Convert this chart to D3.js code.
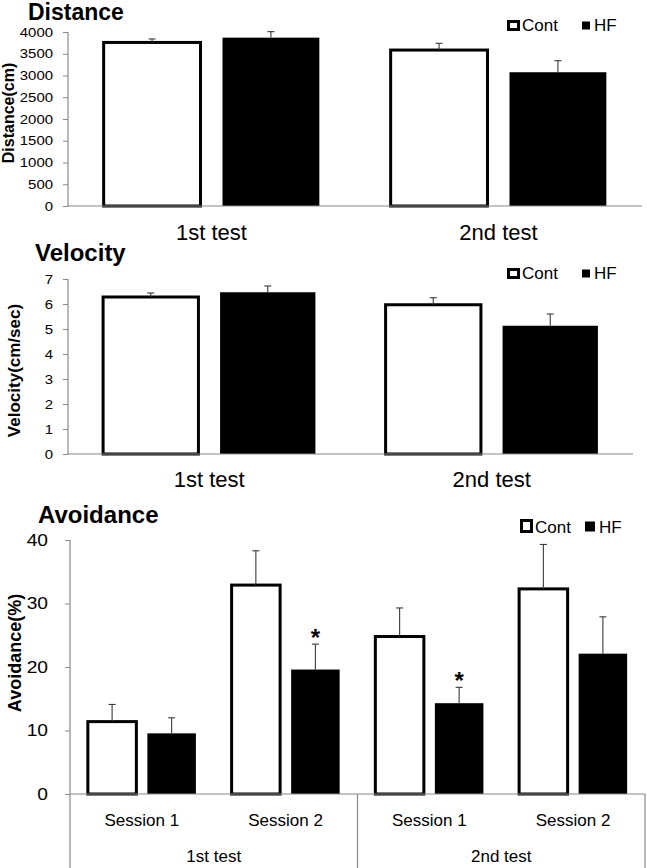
<!DOCTYPE html>
<html>
<head>
<meta charset="utf-8">
<script src="https://cdn.jsdelivr.net/npm/d3@7/dist/d3.min.js"></script>
<style>
  html, body { margin: 0; padding: 0; background: #fff; }
  svg { display: block; font-family: "Liberation Sans", Arial, sans-serif; }
</style>
</head>
<body>
<svg id="chart" width="647" height="868"></svg>
<script>
// ---------- DATA ----------
const groups = ["Cont", "HF"];

const distCategories = ["1st test", "2nd test"];
const distCont = [3760, 3585];
const distContErr = [80, 155];
const distHF = [3870, 3075];
const distHFErr = [138, 266];
const distTicks = [0, 500, 1000, 1500, 2000, 2500, 3000, 3500, 4000];

const velCategories = ["1st test", "2nd test"];
const velCont = [6.28, 5.97];
const velContErr = [0.16, 0.28];
const velHF = [6.47, 5.13];
const velHFErr = [0.25, 0.47];
const velTicks = [0, 1, 2, 3, 4, 5, 6, 7];

const avSessions = ["Session 1", "Session 2", "Session 1", "Session 2"];
const avTests = ["1st test", "2nd test"];
const avCont = [11.4, 32.9, 24.8, 32.3];
const avContErr = [2.7, 5.4, 4.5, 7.0];
const avHF = [9.55, 19.6, 14.3, 22.1];
const avHFErr = [2.45, 4.0, 2.5, 5.8];
const avHFSig = [false, true, true, false];
const avTicks = [0, 10, 20, 30, 40];

// ---------- DRAW ----------
const svg = d3.select("#chart");
const AXIS = "#8a8a8a";
const ERR = "#3a3a3a";

function drawPanel(cfg) {
  const g = svg.append("g");
  const n = cfg.cats.length;
  const keys = d3.range(n);
  const x0 = d3.scaleBand().domain(keys).range([cfg.x0, cfg.x1]).padding(0);
  const x1 = d3.scaleBand().domain(groups).range([0, x0.bandwidth()])
    .paddingInner(0.185).paddingOuter(0.3);
  const y = d3.scaleLinear().domain(cfg.domain).range([cfg.yb, cfg.yt]);

  // title
  g.append("text").attr("x", cfg.titleX).attr("y", cfg.titleY)
    .attr("font-size", cfg.titleSize).attr("font-weight", "bold").text(cfg.title);

  // y label
  g.append("text")
    .attr("transform", `translate(${cfg.ylabX},${(cfg.yb + cfg.yt) / 2 + cfg.ylabDy}) rotate(-90)`)
    .attr("text-anchor", "middle").attr("font-size", cfg.ylabSize).attr("font-weight", "bold")
    .text(cfg.ylab);

  // y axis
  const ya = g.append("g").attr("transform", `translate(${cfg.x0},0)`)
    .call(d3.axisLeft(y).tickValues(cfg.ticks).tickSize(5).tickSizeOuter(0).tickFormat(d3.format("d")));
  ya.select(".domain").remove();
  ya.selectAll(".tick line").attr("stroke", AXIS);
  ya.selectAll(".tick text")
    .attr("x", -cfg.tickGap / cfg.tickScale)
    .attr("transform", `scale(${cfg.tickScale},1)`)
    .attr("font-size", cfg.tickSize)
    .attr("font-family", "Liberation Sans, Arial, sans-serif")
    .attr("fill", "#000");
  g.append("line").attr("x1", cfg.x0).attr("x2", cfg.x0)
    .attr("y1", cfg.yt).attr("y2", cfg.yAxisBottom || cfg.yb)
    .attr("stroke", AXIS).attr("stroke-width", 1.2);

  // bars
  const rows = [];
  keys.forEach(i => {
    rows.push({ i, grp: "Cont", v: cfg.cont[i], e: cfg.contErr[i], sig: false });
    rows.push({ i, grp: "HF", v: cfg.hf[i], e: cfg.hfErr[i], sig: cfg.sig ? cfg.sig[i] : false });
  });

  g.selectAll("rect.bar").data(rows).join("rect").attr("class", "bar")
    .attr("x", d => x0(d.i) + x1(d.grp))
    .attr("width", x1.bandwidth())
    .attr("y", d => y(d.v))
    .attr("height", d => y(0) - y(d.v))
    .attr("fill", d => d.grp === "Cont" ? "#fff" : "#000")
    .attr("stroke", d => d.grp === "Cont" ? "#000" : "none")
    .attr("stroke-width", 3);

  // baseline
  g.append("line").attr("x1", cfg.x0).attr("x2", cfg.x1)
    .attr("y1", y(0)).attr("y2", y(0)).attr("stroke", AXIS).attr("stroke-width", 1.2);

  // error bars
  const cx = d => x0(d.i) + x1(d.grp) + x1.bandwidth() / 2;
  g.selectAll("line.err").data(rows).join("line").attr("class", "err")
    .attr("x1", cx).attr("x2", cx)
    .attr("y1", d => y(d.v)).attr("y2", d => y(d.v + d.e))
    .attr("stroke", ERR).attr("stroke-width", 1.1);
  g.selectAll("line.cap").data(rows).join("line").attr("class", "cap")
    .attr("x1", d => cx(d) - 3.5).attr("x2", d => cx(d) + 3.5)
    .attr("y1", d => y(d.v + d.e)).attr("y2", d => y(d.v + d.e))
    .attr("stroke", ERR).attr("stroke-width", 1.1);

  // significance
  g.selectAll("text.sig").data(rows.filter(d => d.sig)).join("text").attr("class", "sig")
    .attr("x", cx).attr("y", d => y(d.v + d.e) + 2)
    .attr("text-anchor", "middle").attr("font-size", 24).attr("font-weight", "bold").text("*");

  // category labels
  g.selectAll("text.cat").data(keys).join("text").attr("class", "cat")
    .attr("x", i => x0(i) + x0.bandwidth() / 2)
    .attr("y", y(0) + cfg.catDy)
    .attr("text-anchor", "middle").attr("font-size", cfg.catSize)
    .text(i => cfg.cats[i]);

  // legend
  const L = cfg.legend;
  g.append("rect").attr("x", L.x + 1.5).attr("y", L.y + 1.5)
    .attr("width", L.w - 3).attr("height", L.h - 3)
    .attr("fill", "#fff").attr("stroke", "#000").attr("stroke-width", 3);
  g.append("text").attr("x", L.x + L.w + 2).attr("y", L.base)
    .attr("font-size", L.size).text(groups[0]);
  g.append("rect").attr("x", L.hx).attr("y", L.base - L.hs - 1.5)
    .attr("width", L.hs).attr("height", L.hs).attr("fill", "#000");
  g.append("text").attr("x", L.hx + L.hs + 4).attr("y", L.base)
    .attr("font-size", L.size).text(groups[1]);

  return { g, x0, y };
}

// Distance
drawPanel({
  title: "Distance", titleX: 28, titleY: 20, titleSize: 23,
  ylab: "Distance(cm)", ylabX: 14, ylabDy: -6, ylabSize: 16,
  cats: distCategories, cont: distCont, contErr: distContErr, hf: distHF, hfErr: distHFErr,
  domain: [0, 4000], ticks: distTicks,
  x0: 68, x1: 642, yb: 206, yt: 32,
  tickGap: 15, tickScale: 1.15, tickSize: 13,
  catDy: 34, catSize: 22,
  legend: { x: 507, y: 20, w: 13, h: 11, base: 31, size: 17, hx: 582, hs: 8 }
});

// Velocity
drawPanel({
  title: "Velocity", titleX: 35, titleY: 261, titleSize: 24,
  ylab: "Velocity(cm/sec)", ylabX: 20, ylabDy: 4, ylabSize: 17,
  cats: velCategories, cont: velCont, contErr: velContErr, hf: velHF, hfErr: velHFErr,
  domain: [0, 7], ticks: velTicks,
  x0: 68, x1: 633, yb: 454, yt: 279,
  tickGap: 15, tickScale: 1.15, tickSize: 13,
  catDy: 33, catSize: 22,
  legend: { x: 507, y: 268, w: 13, h: 11, base: 279, size: 17, hx: 582, hs: 8 }
});

// Avoidance
const av = drawPanel({
  title: "Avoidance", titleX: 38, titleY: 523, titleSize: 24,
  ylab: "Avoidance(%)", ylabX: 21, ylabDy: -14, ylabSize: 18,
  cats: avSessions, cont: avCont, contErr: avContErr, hf: avHF, hfErr: avHFErr, sig: avHFSig,
  domain: [0, 40], ticks: avTicks,
  x0: 70, x1: 645, yb: 794, yt: 540, yAxisBottom: 868,
  tickGap: 22, tickScale: 1.2, tickSize: 16,
  catDy: 32, catSize: 17,
  legend: { x: 520, y: 519, w: 13, h: 14, base: 533, size: 17, hx: 585, hs: 10 }
});

// multi-level axis: test groups and separators
{
  const { g, x0, y } = av;
  const groupsIdx = avTests.map((t, k) => ({ t, a: k * 2, b: k * 2 + 1 }));
  g.selectAll("line.sep").data(groupsIdx).join("line").attr("class", "sep")
    .attr("x1", d => x0(d.b) + x0.bandwidth()).attr("x2", d => x0(d.b) + x0.bandwidth())
    .attr("y1", y(0)).attr("y2", 868)
    .attr("stroke", AXIS).attr("stroke-width", 1.2);
  g.selectAll("text.test").data(groupsIdx).join("text").attr("class", "test")
    .attr("x", d => (x0(d.a) + x0(d.b) + x0.bandwidth()) / 2)
    .attr("y", y(0) + 68)
    .attr("text-anchor", "middle").attr("font-size", 17)
    .text(d => d.t);
}
</script>
</body>
</html>
